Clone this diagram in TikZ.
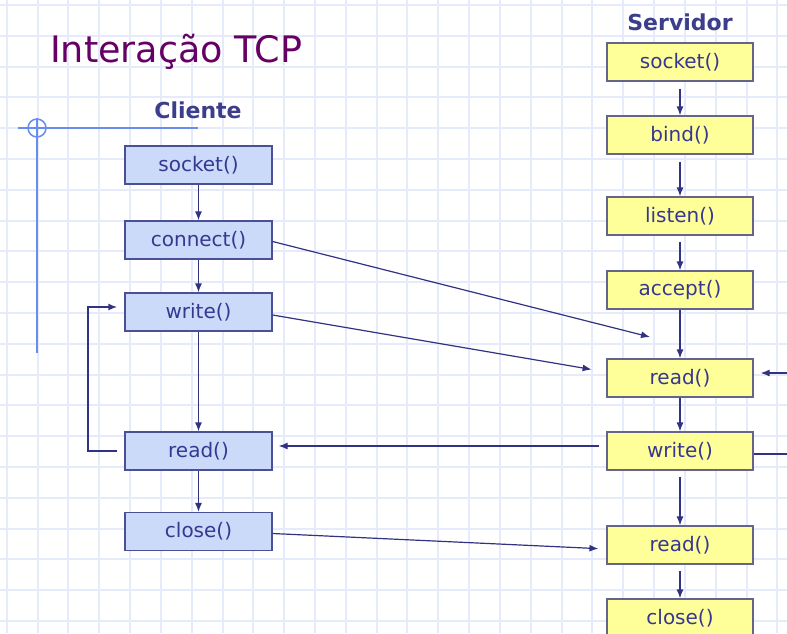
\documentclass[tikz,border=0pt]{standalone}
\usepackage{fontspec}
\setmainfont{DejaVu Sans}
\usetikzlibrary{arrows.meta}
\definecolor{gridc}{RGB}{229,235,251}
\definecolor{deco}{RGB}{105,140,240}
\definecolor{titlec}{RGB}{102,0,102}
\definecolor{labc}{RGB}{60,62,140}
\definecolor{txtc}{RGB}{55,55,145}
\definecolor{arrc}{RGB}{50,50,130}
\definecolor{cfill}{RGB}{204,218,250}
\definecolor{cdraw}{RGB}{75,80,150}
\definecolor{sfill}{RGB}{255,255,153}
\definecolor{sdraw}{RGB}{100,100,140}
\tikzset{
  cbox/.style={draw=cdraw,fill=cfill,line width=1.2pt,minimum width=147pt,minimum height=38pt,inner sep=0pt,text=txtc,font=\fontsize{20}{24}\selectfont},
  sbox/.style={draw=sdraw,fill=sfill,line width=1.2pt,minimum width=146pt,minimum height=38pt,inner sep=0pt,text=txtc,font=\fontsize{20}{24}\selectfont},
  conn/.style={draw=arrc,line width=1.2pt,-{Latex[length=9pt,width=7pt]}},
  loopl/.style={draw=arrc,line width=2.2pt},
  hdr/.style={text=labc,font=\fontsize{22}{26}\selectfont\bfseries,inner sep=0pt}
}
\begin{document}
\begin{tikzpicture}[x=1pt,y=-1pt]
\useasboundingbox (0,0) rectangle (787,633);
\clip (0,0) rectangle (787,633);
\fill[white] (0,0) rectangle (787,633);
% grid
\foreach \k in {0,...,25} {\draw[gridc,line width=2pt] ({6.7+30.83*\k},0) -- ({6.7+30.83*\k},633);}
\foreach \k in {0,...,20} {\draw[gridc,line width=2pt] (0,{5+30.8*\k}) -- (787,{5+30.8*\k});}
% decoration
\draw[deco,line width=2pt] (18,128) -- (198,128);
\draw[deco,line width=2pt] (37,118) -- (37,353);
\draw[deco,line width=1.5pt] (37,128) circle (9);
% title
\node[anchor=base west,text=titlec,font=\fontsize{36.5}{40}\selectfont,inner sep=0pt] (title) at (50,62) {Interação TCP};
\node[hdr,anchor=base] (cli) at (198,118) {Cliente};
\node[hdr,anchor=base] (srv) at (680,30) {Servidor};
% client
\node[cbox] (csock) at (198.5,165) {socket()};
\node[cbox] (cconn) at (198.5,240) {connect()};
\node[cbox] (cwrite) at (198.5,312) {write()};
\node[cbox] (cread) at (198.5,451) {read()};
\node[cbox] (cclose) at (198.5,531.5) {close()};
% server
\node[sbox] (ssock) at (680,62) {socket()};
\node[sbox] (sbind) at (680,135) {bind()};
\node[sbox] (slisten) at (680,216) {listen()};
\node[sbox] (saccept) at (680,290) {accept()};
\node[sbox] (sread) at (680,378) {read()};
\node[sbox] (swrite) at (680,451) {write()};
\node[sbox] (sread2) at (680,545) {read()};
\node[sbox] (sclose) at (680,618) {close()};
% client arrows
\draw[conn] (csock) -- (cconn);
\draw[conn] (cconn) -- (cwrite);
\draw[conn] (cwrite) -- (cread);
\draw[conn] (cread) -- (cclose);
\draw[loopl,-{Latex[length=9pt,width=7pt]}] ([xshift=-7pt]cread.west) -- (88,451) -- (88,307) -- ([xshift=-7pt,yshift=5pt]cwrite.west);
% server arrows
\draw[conn,shorten <=7pt] (ssock) -- (sbind);
\draw[conn,shorten <=7pt] (sbind) -- (slisten);
\draw[conn,shorten <=6pt] (slisten) -- (saccept);
\draw[conn] (saccept) -- (sread);
\draw[conn] (sread) -- (swrite);
\draw[conn,shorten <=6pt] (swrite) -- (sread2);
\draw[conn,shorten <=6pt] (sread2) -- (sclose);
% cross arrows
\coordinate (tipA) at (650,337);
\draw[conn] ([yshift=-1.5pt]cconn.east) -- (tipA);
\draw[conn,shorten >=15pt] ([yshift=-3pt]cwrite.east) -- ([yshift=6pt]sread.west);
\draw[conn,shorten <=7pt,shorten >=6pt] ([yshift=5pt]swrite.west) -- ([yshift=5pt]cread.east);
\draw[conn,shorten >=8pt] ([yshift=-2pt]cclose.east) -- ([yshift=-4pt]sread2.west);
% server loop (runs off the right edge)
\draw[loopl] ([yshift=-3pt]swrite.east) -- (800,454) -- (800,373);
\draw[conn,shorten >=7pt] (800,373) -- ([yshift=5pt]sread.east);
\end{tikzpicture}
\end{document}
